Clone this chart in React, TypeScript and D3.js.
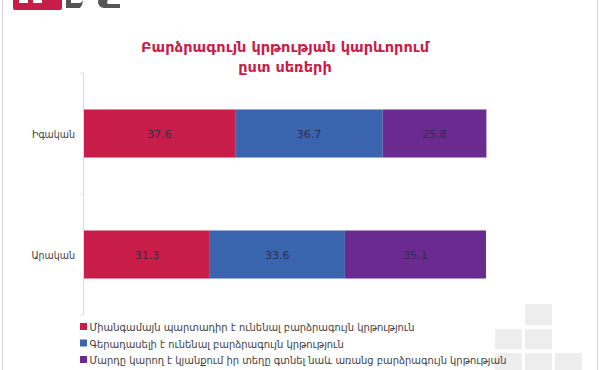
import { useEffect, useRef } from 'react';
import * as d3 from 'd3';

// Բարձրագույն կրթության կարևորում ըստ սեռերի
const categories = ['Իգական', 'Արական'];
const seriesNames = [
  'Միանգամայն պարտադիր է ունենալ բարձրագույն կրթություն',
  'Գերադասելի է ունենալ բարձրագույն կրթություն',
  'Մարդը կարող է կյանքում իր տեղը գտնել նաև առանց բարձրագույն կրթության',
];
const mustHave = [37.6, 31.3];
const preferable = [36.7, 33.6];
const notNeeded = [25.8, 35.1];
const colors = ['#c81d48', '#3b64ae', '#6b2a90'];
const titleLines = ['Բարձրագույն կրթության կարևորում', 'ըստ սեռերի'];

const FONT = '"DejaVu Sans", sans-serif';
const COND = '"DejaVu Sans Condensed", "DejaVu Sans", sans-serif';

const App = () => {
  const ref = useRef<SVGSVGElement>(null);

  useEffect(() => {
    const svg = d3.select(ref.current);
    svg.selectAll('*').remove();

    const width = 600;
    const height = 370;

    // frame
    svg.append('rect').attr('width', width).attr('height', height).attr('fill', '#fff');
    svg.append('line').attr('x1', 2.5).attr('x2', 2.5).attr('y1', 0).attr('y2', height)
      .attr('stroke', '#d4d4d4');
    svg.append('line').attr('x1', 597.5).attr('x2', 597.5).attr('y1', 0).attr('y2', height)
      .attr('stroke', '#d4d4d4');

    // logo (cut off at top)
    const logo = svg.append('g');
    logo.append('rect').attr('x', 13).attr('y', -6).attr('width', 49).attr('height', 16)
      .attr('rx', 2).attr('fill', '#c81d48');
    logo.append('rect').attr('x', 19).attr('y', -6).attr('width', 9).attr('height', 9).attr('fill', '#fff');
    logo.append('rect').attr('x', 33).attr('y', -6).attr('width', 9).attr('height', 9).attr('fill', '#fff');
    logo.append('path').attr('d', 'M66,-4 h14 a8,8 0 0 1 0,12 h-14 z M71,-4 v7 h8 a3,3 0 0 0 0,-7 z')
      .attr('fill', '#555').attr('fill-rule', 'evenodd');
    logo.append('path').attr('d', 'M104,-4 h16 v4 h-12 a3,3 0 0 0 0,4 h12 v4 h-16 a6,6 0 0 1 0,-12 z')
      .attr('fill', '#555');

    // decorative squares bottom right
    const sq = [[525, 304, 21], [495, 329, 20], [525, 329, 20], [495, 353, 20], [525, 353, 20], [555, 353, 20]];
    svg.append('g').selectAll('rect').data(sq).enter().append('rect')
      .attr('x', (d) => d[0]).attr('y', (d) => d[1]).attr('width', 27).attr('height', (d) => d[2])
      .attr('fill', '#ededed');

    // title
    svg.append('g').selectAll('text').data(titleLines).enter().append('text')
      .attr('x', 285).attr('y', (_d, i) => 52 + i * 20)
      .attr('text-anchor', 'middle')
      .attr('font-family', FONT).attr('font-size', 14.5).attr('font-weight', 'bold')
      .attr('fill', '#c81d48')
      .text((d) => d);

    const x = d3.scaleLinear().domain([0, 100]).range([84, 486]);
    const y = d3.scaleBand().domain(categories).range([73, 315]).paddingInner(0.603).paddingOuter(0.3015);

    const rows = categories.map((c, i) => ({ c, vals: [mustHave[i], preferable[i], notNeeded[i]] }));
    const stacked = d3.stack<{ c: string; vals: number[] }, number>()
      .keys([0, 1, 2])
      .value((d, k) => d.vals[k])(rows);

    // axis line + ticks
    svg.append('line').attr('x1', 83.5).attr('x2', 83.5).attr('y1', 73).attr('y2', 315)
      .attr('stroke', '#d9d9d9');
    const step = y.step();
    const tickYs = [73, 73 + step, 73 + 2 * step];
    svg.append('g').selectAll('line').data(tickYs).enter().append('line')
      .attr('x1', 80).attr('x2', 83.5).attr('y1', (d) => d).attr('y2', (d) => d)
      .attr('stroke', '#e4e4e4');

    stacked.forEach((s, k) => {
      const g = svg.append('g');
      g.selectAll('rect').data(s).enter().append('rect')
        .attr('x', (d) => x(d[0]))
        .attr('y', (d) => y(d.data.c) || 0)
        .attr('width', (d) => x(d[1]) - x(d[0]))
        .attr('height', y.bandwidth())
        .attr('fill', colors[k]);
      g.selectAll('text').data(s).enter().append('text')
        .attr('x', (d) => (x(d[0]) + x(d[1])) / 2)
        .attr('y', (d) => (y(d.data.c) || 0) + y.bandwidth() / 2 + 4)
        .attr('text-anchor', 'middle')
        .attr('font-family', FONT).attr('font-size', 11)
        .attr('fill', '#2e2e4a')
        .text((d) => d.data.vals[k].toFixed(1));
    });

    // category labels
    svg.append('g').selectAll('text').data(categories).enter().append('text')
      .attr('x', 75)
      .attr('y', (d) => (y(d) || 0) + y.bandwidth() / 2 + 4)
      .attr('text-anchor', 'end')
      .attr('font-family', COND).attr('font-size', 10.5)
      .attr('fill', '#404040')
      .text((d) => d);

    // legend
    const lg = svg.append('g').selectAll('g').data(seriesNames).enter().append('g')
      .attr('transform', (_d, i) => `translate(80,${327 + i * 16.5})`);
    lg.append('rect').attr('x', 0).attr('y', -4).attr('width', 7).attr('height', 7)
      .attr('fill', (_d, i) => colors[i]);
    lg.append('text').attr('x', 9.5).attr('y', 4)
      .attr('font-family', COND).attr('font-size', 11)
      .attr('fill', '#404040')
      .text((d) => d);
  }, []);

  return (
    <div style={{ position: 'absolute', left: 0, top: 0 }}>
      <svg ref={ref} width={600} height={370} style={{ display: 'block' }} />
    </div>
  );
};

export default App;
